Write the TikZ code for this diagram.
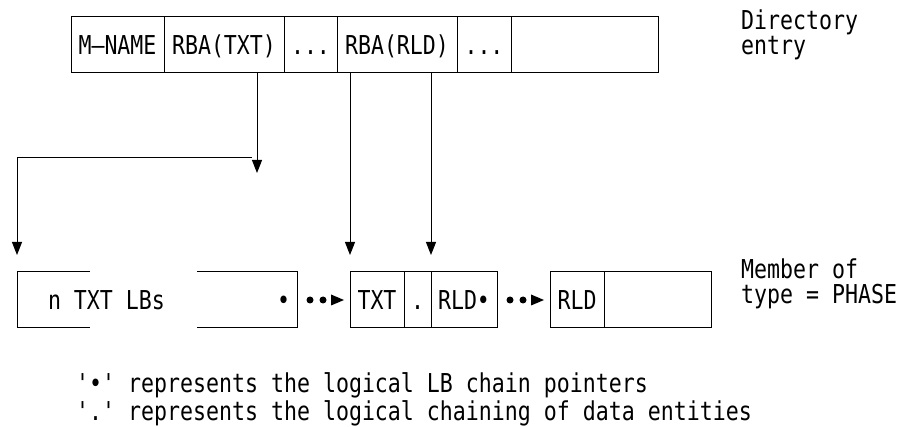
\documentclass[tikz,border=0pt]{standalone}
\usepackage{fontspec}
\setmonofont[FakeStretch=0.83]{DejaVu Sans Mono}
\usetikzlibrary{positioning,arrows.meta}
\tikzset{
    cell/.style={
        rectangle,
        draw,
        line width=1pt,
        minimum height=56pt,
        text height=19pt,
        text depth=0pt,
        inner sep=0pt,
        outer sep=0pt
    },
    txt/.style={inner sep=0pt,outer sep=0pt,text height=19pt,text depth=0pt},
    note/.style={align=left,inner sep=0pt,anchor=north west},
    arr/.style={-{Triangle[length=13pt,width=10pt]},line width=1pt},
    chain/.style={line width=7pt,line cap=round,dash pattern=on 0pt off 13pt,
        -{Triangle[length=13pt,width=11pt,line width=0pt]}}
}

\begin{document}
\begin{tikzpicture}[x=1pt,y=1pt,font=\ttfamily\fontsize{26}{25}\selectfont]
\useasboundingbox (0,0) rectangle (910,-427);
% directory entry
\node[cell,minimum width=93pt] (mname) at (117.5,-45) {M—NAME};
\node[cell,minimum width=120pt,right=0pt of mname] (rbatxt) {RBA(TXT)};
\node[cell,minimum width=53pt,right=0pt of rbatxt] (dotsa) {...};
\node[cell,minimum width=120pt,right=0pt of dotsa] (rbarld) {RBA(RLD)};
\node[cell,minimum width=54pt,right=0pt of rbarld] (dotsb) {...};
\node[cell,minimum width=147pt,right=0pt of dotsb] (rest) {};
\node[note] (dirlbl) at ([xshift=83pt,yshift=7pt]rest.north east) {Directory\\entry};
% member of type PHASE
\node[cell,draw=none,minimum width=280pt] (lbs) at (157,-300) {};
\node[txt,right=31pt of lbs.west] (lbsname) {n TXT LBs};
\node[txt,left=7pt of lbs.east] (lbsptr) {•};
\draw[line width=1pt] ([xshift=73pt]lbs.north west) -- (lbs.north west)
    -- (lbs.south west) -- ([xshift=73pt]lbs.south west);
\draw[line width=1pt] ([xshift=-100pt]lbs.north east) -- (lbs.north east)
    -- (lbs.south east) -- ([xshift=-100pt]lbs.south east);
\node[cell,minimum width=54pt,right=53pt of lbs] (txt) {TXT};
\node[cell,minimum width=27pt,right=0pt of txt] (dotc) {.};
\node[cell,minimum width=66pt,right=0pt of dotc] (rldb) {RLD•};
\node[cell,minimum width=54pt,right=53pt of rldb] (rld) {RLD};
\node[cell,minimum width=107pt,right=0pt of rld] (restb) {};
\node[note] (memlbl) at ([xshift=30pt,yshift=13pt]restb.north east) {Member of\\type = PHASE};
% pointers
\coordinate (bend) at ([xshift=33pt,yshift=-100pt]rbatxt.south);
\draw[arr] ([xshift=33pt]rbatxt.south) -- (bend);
\draw[arr] ([xshift=-5pt,yshift=15pt]bend) -| ([yshift=17pt]lbs.north west);
\draw[arr] (rbarld.south -| txt.west) -- ([yshift=17pt]txt.north west);
\draw[arr] (rbarld.south -| dotc.east) -- ([yshift=17pt]dotc.north east);
\draw[chain] ([xshift=13pt]lbs.east) -- ([xshift=-6pt]txt.west);
\draw[chain] ([xshift=13pt]rldb.east) -- ([xshift=-6pt]rld.west);
% legend
\node[note] (legend) at ([xshift=59pt,yshift=-44pt]lbs.south west)
    {'•' represents the logical LB chain pointers\\[2pt]
     '.' represents the logical chaining of data entities};
\end{tikzpicture}
\end{document}
